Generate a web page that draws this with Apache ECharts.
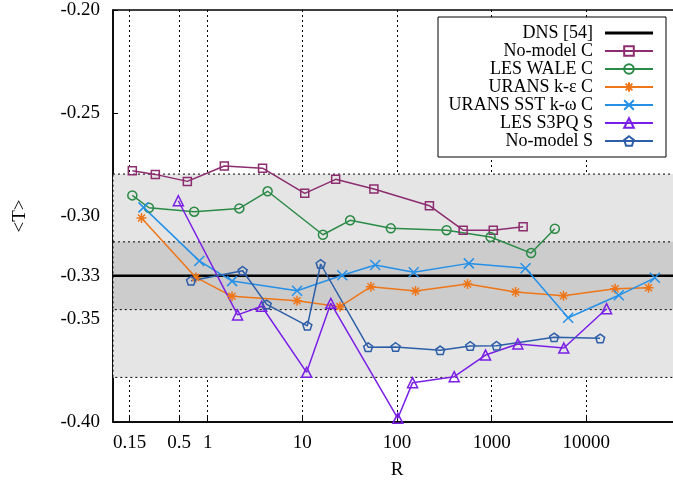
<!DOCTYPE html>
<html>
<head>
<meta charset="utf-8">
<script src="https://cdn.jsdelivr.net/npm/echarts@6/dist/echarts.min.js"></script>
<style>
html, body { margin: 0; padding: 0; background: #fff; }
#chart { width: 673px; height: 485px; }
</style>
</head>
<body>
<div id="chart"></div>
<script>
// Axis ticks
const xTicks = [0.15, 0.5, 1, 10, 100, 1000, 10000];
const yTicks = [-0.40, -0.35, -0.329, -0.30, -0.25, -0.20];

// DNS reference value and the tolerance bands drawn around it (fractions of the value)
const dnsValue = -0.329;
const dnsR = [0.1, 100000];
const bandFractions = [0.15, 0.05];

// No-model C
const noModelC_R = [0.16, 0.28, 0.61, 1.5, 3.8, 10.6, 22.5, 57, 220, 500, 1040, 2150];
const noModelC_T = [-0.278, -0.2798, -0.2832, -0.2757, -0.2768, -0.289, -0.2822, -0.2869, -0.295, -0.3069, -0.3069, -0.3052];

// LES WALE C
const lesWaleC_R = [0.16, 0.24, 0.72, 2.16, 4.3, 16.5, 32, 86, 334, 973, 2610, 4650];
const lesWaleC_T = [-0.29, -0.296, -0.2979, -0.2963, -0.288, -0.3091, -0.3021, -0.306, -0.3069, -0.3102, -0.318, -0.3062];

// URANS k-epsilon C
const uransKeC_R = [0.2, 0.75, 1.81, 8.8, 25, 53, 157, 556, 1790, 5740, 20150, 45400];
const uransKeC_T = [-0.301, -0.3298, -0.339, -0.3411, -0.344, -0.3343, -0.3364, -0.333, -0.3369, -0.3387, -0.3353, -0.3348];

// URANS SST k-omega C
const uransSstC_R = [0.21, 0.815, 1.81, 8.8, 26.4, 58.9, 150, 574, 2280, 6430, 22000, 52900];
const uransSstC_T = [-0.2958, -0.3218, -0.3316, -0.3363, -0.3288, -0.3238, -0.3273, -0.323, -0.3254, -0.3494, -0.3385, -0.33];

// LES S3PQ S
const lesS3pqS_R = [0.49, 2.07, 3.72, 11.1, 20, 102, 146, 402, 862, 1890, 5785, 16350];
const lesS3pqS_T = [-0.2926, -0.348, -0.3438, -0.3759, -0.3424, -0.3982, -0.3809, -0.378, -0.3675, -0.3621, -0.3641, -0.345];

// No-model S
const noModelS_R = [0.667, 2.34, 4.2, 11.3, 15.6, 49.6, 96.7, 286, 593, 1127, 4570, 14000];
const noModelS_T = [-0.3314, -0.3266, -0.3429, -0.3533, -0.3233, -0.3637, -0.3636, -0.3652, -0.3631, -0.363, -0.3589, -0.3594];

const FONT = '"Liberation Serif", "Times New Roman", serif';

const SYM = {
  asterisk: 'path://M-10,0L10,0M0,-10L0,10M-7,-7L7,7M-7,7L7,-7',
  cross: 'path://M-10,-10L10,10M-10,10L10,-10',
  pentagon: 'path://M0,-100L95.1,-30.9L58.8,80.9L-58.8,80.9L-95.1,-30.9Z'
};

function pairs(xs, ys) {
  return xs.map((x, i) => [x, ys[i]]);
}

function dataSeries(name, xs, ys, color, symbol, size) {
  return {
    name: name,
    type: 'line',
    data: pairs(xs, ys),
    symbol: symbol,
    symbolSize: size,
    symbolKeepAspect: true,
    lineStyle: { color: color, width: 1.5 },
    itemStyle: { color: 'rgba(0,0,0,0)', borderColor: color, borderWidth: 1.5 },
    z: 3
  };
}

const bandAreas = bandFractions.map(f => [
  { yAxis: dnsValue * (1 - f), itemStyle: { color: f > 0.1 ? '#e5e5e5' : '#cccccc' } },
  { yAxis: dnsValue * (1 + f) }
]);

const chart = echarts.init(document.getElementById('chart'), null, { renderer: 'canvas' });

chart.setOption({
  animation: false,
  backgroundColor: '#fff',
  textStyle: { fontFamily: FONT },
  grid: {
    left: 113, top: 10, right: -8, bottom: 63,
    outerBoundsMode: 'none',
    containLabel: false,
    show: true, borderColor: '#000', borderWidth: 1.5, backgroundColor: 'transparent'
  },
  xAxis: {
    type: 'log',
    logBase: 10,
    min: 0.1,
    max: 100000,
    name: 'R',
    nameLocation: 'middle',
    nameGap: 39,
    nameTextStyle: { fontFamily: FONT, fontSize: 19, color: '#000' },
    axisLine: { show: true, lineStyle: { color: '#000', width: 1.5 } },
    axisTick: { show: true, inside: true, length: 5, customValues: xTicks, lineStyle: { color: '#000', width: 1 } },
    minorTick: { show: false },
    axisLabel: {
      customValues: xTicks,
      margin: 12,
      color: '#000',
      fontFamily: FONT,
      fontSize: 19,
      formatter: v => String(+(+v).toPrecision(6))
    },
    splitLine: { show: true, lineStyle: { color: '#000', width: 1, type: [2, 3] } }
  },
  yAxis: {
    type: 'value',
    min: -0.40,
    max: -0.20,
    name: '<T>',
    nameLocation: 'middle',
    nameRotate: 90,
    nameGap: 83,
    nameTextStyle: { fontFamily: FONT, fontSize: 19, color: '#000' },
    axisLine: { show: true, lineStyle: { color: '#000', width: 1.5 } },
    axisTick: { show: true, inside: true, length: 5, customValues: yTicks, lineStyle: { color: '#000', width: 1 } },
    axisLabel: {
      customValues: yTicks,
      margin: 13,
      color: '#000',
      fontFamily: FONT,
      fontSize: 19,
      formatter: v => (+v).toFixed(2)
    },
    splitLine: { show: false }
  },
  legend: {
    orient: 'vertical',
    left: 438,
    top: 17,
    align: 'right',
    itemWidth: 48,
    itemHeight: 12,
    itemGap: 0,
    padding: [7, 12, 7, 0],
    backgroundColor: '#fff',
    borderColor: '#000',
    borderWidth: 1,
    z: 20,
    formatter: '{t|{name}}',
    textStyle: {
      rich: {
        t: {
          width: 155,
          align: 'right',
          fontFamily: FONT,
          fontSize: 18,
          lineHeight: 17.4,
          color: '#000',
          padding: [0, 7, 0, 0]
        }
      }
    },
    data: [
      { name: 'DNS [54]', icon: 'path://M0,0H48V3H0Z' },
      'No-model C', 'LES WALE C', 'URANS k-ε C', 'URANS SST k-ω C', 'LES S3PQ S', 'No-model S'
    ]
  },
  series: [
    {
      name: 'DNS [54]',
      type: 'line',
      data: dnsR.map(r => [r, dnsValue]),
      symbol: 'none',
      lineStyle: { color: '#000', width: 2.5 },
      itemStyle: { color: '#000' },
      z: 2,
      markArea: {
        silent: true,
        itemStyle: { borderColor: '#000', borderWidth: 1, borderType: [2, 3] },
        data: bandAreas
      }
    },
    dataSeries('No-model C', noModelC_R, noModelC_T, '#8b2d6e', 'rect', 8),
    dataSeries('LES WALE C', lesWaleC_R, lesWaleC_T, '#2b8a47', 'circle', 9),
    dataSeries('URANS k-ε C', uransKeC_R, uransKeC_T, '#ee7618', SYM.asterisk, 10),
    dataSeries('URANS SST k-ω C', uransSstC_R, uransSstC_T, '#2590e8', SYM.cross, 10),
    dataSeries('LES S3PQ S', lesS3pqS_R, lesS3pqS_T, '#7a1fe6', 'triangle', 10),
    dataSeries('No-model S', noModelS_R, noModelS_T, '#2d5ea8', SYM.pentagon, 9)
  ]
});
</script>
</body>
</html>
